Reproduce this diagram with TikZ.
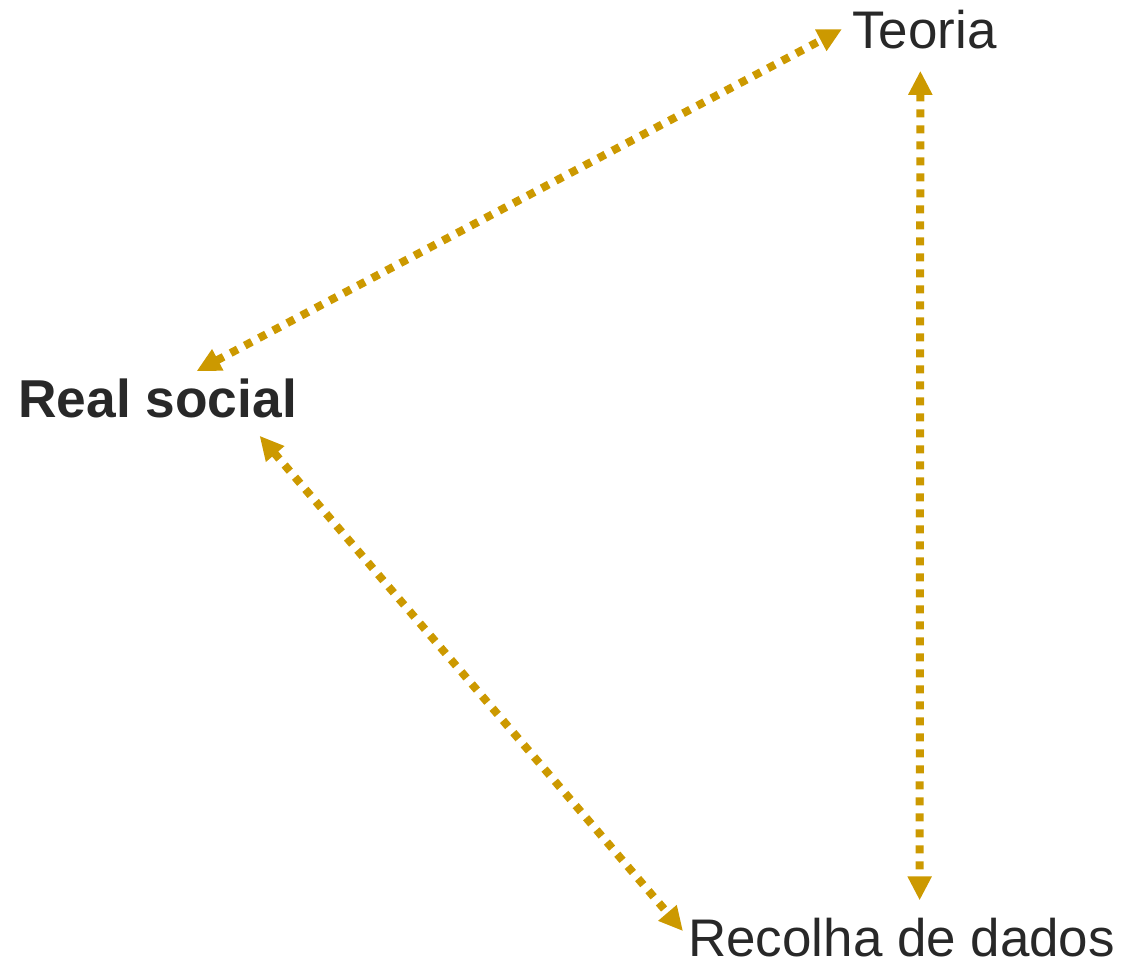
\documentclass[tikz,border=0pt]{standalone}
\usepackage{fontspec}
\setmainfont{Liberation Sans}
\usetikzlibrary{arrows.meta,calc}
\definecolor{gold}{RGB}{204,153,0}
\definecolor{ink}{RGB}{40,40,40}

\begin{document}
\begin{tikzpicture}[x=0.75pt,y=-0.75pt,>={Triangle[length=18pt,width=17pt]},
    word node/.style={inner sep=0pt,anchor=base west,text=ink,font=\fontsize{39.7}{40}\selectfont},
    link/.style={<->,draw=gold,line width=6pt,dash pattern=on 6pt off 6pt}]

            \useasboundingbox (0,0) rectangle (1124,964);

            \node[word node] (1) at (852,48) {Teoria};
            \node[word node, font=\fontsize{40}{40}\selectfont\bfseries] (2) at (18,417) {Real social};
            \node[word node] (3) at (688,956) {Recolha de dados};

            \draw[link] ($(2.north)+(39,-7)$) to ($(1.west)+(-10,0)$);
            \draw[link] ($(2.south)+(102,18)$) to ($(3.west)+(-5,-6)$);
            \draw[link] ($(1.south)+(-4,22)$) to ($(3.north)+(18,-17)$);

            ;
        \end{tikzpicture}
\end{document}
